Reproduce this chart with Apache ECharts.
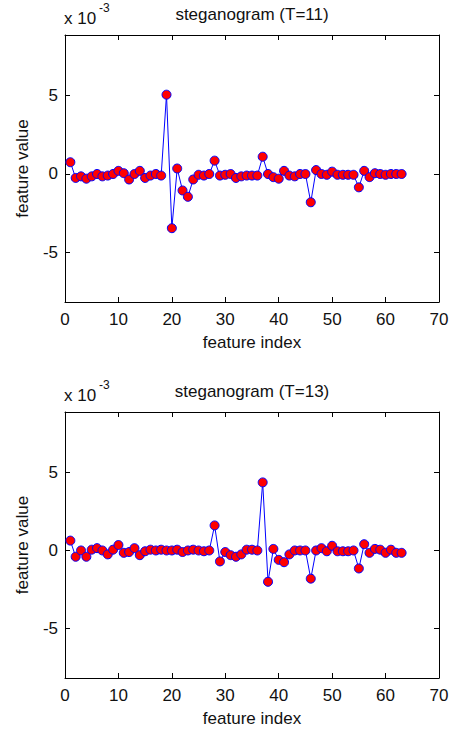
<!DOCTYPE html>
<html>
<head>
<meta charset="utf-8">
<script src="https://cdn.jsdelivr.net/npm/echarts@6/dist/echarts.min.js"></script>
<style>
html,body{margin:0;padding:0;background:#fff;}
#chart{width:453px;height:734px;}
</style>
</head>
<body>
<div id="chart"></div>
<script>
// feature index 1..63
var featureIndex = [];
for (var k = 1; k <= 63; k++) featureIndex.push(k);

// steganogram T=11 (values x 10^-3)
var valuesT11 = [0.75,-0.25,-0.15,-0.3,-0.15,0.0,-0.15,-0.1,0.0,0.2,
  0.05,-0.35,0.0,0.2,-0.25,-0.1,0.0,-0.1,5.05,-3.45,
  0.35,-1.05,-1.45,-0.35,-0.05,-0.1,0.0,0.85,-0.1,-0.05,
  0.0,-0.25,-0.15,-0.1,-0.1,-0.1,1.1,0.0,-0.2,-0.3,
  0.2,-0.1,-0.15,0.0,0.0,-1.8,0.25,0.0,-0.05,0.15,
  -0.05,-0.05,-0.05,-0.05,-0.85,0.2,-0.2,0.05,0.0,-0.05,
  0.0,0.0,0.0];

// steganogram T=13 (values x 10^-3)
var valuesT13 = [0.63,-0.4,0.0,-0.4,0.05,0.15,0.0,-0.25,0.05,0.35,
  -0.15,-0.1,0.15,-0.3,-0.05,0.05,0.0,0.05,0.0,0.0,
  0.05,-0.1,0.0,0.05,0.0,-0.05,0.0,1.6,-0.7,-0.1,
  -0.3,-0.4,-0.25,0.05,0.05,0.0,4.35,-2.0,0.1,-0.6,
  -0.75,-0.25,0.0,0.0,0.0,-1.8,0.0,0.15,-0.05,0.3,
  -0.05,-0.05,-0.05,0.0,-1.15,0.4,-0.15,0.1,0.05,-0.15,
  0.05,-0.15,-0.15];

var titles = ['steganogram (T=11)', 'steganogram (T=13)'];
var xTicks = [0, 10, 20, 30, 40, 50, 60, 70];
var yTicks = [-5, 0, 5];
var xName = 'feature index';
var yName = 'feature value';
var scaleText = 'x 10';
var scaleExp = '-3';

var FONT = 'Liberation Sans, Arial, sans-serif';
var grids = [
  {left: 65, width: 374, top: 35, height: 267},
  {left: 65, width: 374, top: 412, height: 266}
];

function pairs(vals) {
  return featureIndex.map(function (x, i) { return [x, vals[i]]; });
}

var lineCol = '#000';
var txtCol = '#111';
var xAxes = [], yAxes = [], series = [], graphics = [];
[valuesT11, valuesT13].forEach(function (vals, g) {
  xAxes.push({
    type: 'value', gridIndex: g, position: 'bottom', min: 0, max: 70, interval: 10,
    axisLine: {show: true, onZero: false, lineStyle: {color: lineCol, width: 1}},
    axisTick: {show: true, inside: true, length: 5, lineStyle: {color: lineCol}},
    axisLabel: {color: txtCol, fontSize: 17, fontFamily: FONT, margin: 9},
    splitLine: {show: false},
    name: xName, nameLocation: 'middle', nameGap: 32,
    nameTextStyle: {color: txtCol, fontSize: 17, fontFamily: FONT}
  });
  xAxes.push({
    type: 'value', gridIndex: g, position: 'top', min: 0, max: 70, interval: 10,
    axisLine: {show: true, onZero: false, lineStyle: {color: lineCol, width: 1}},
    axisTick: {show: true, inside: true, length: 5, lineStyle: {color: lineCol}},
    axisLabel: {show: false}, splitLine: {show: false}
  });
  yAxes.push({
    type: 'value', gridIndex: g, position: 'left', min: -8.15, max: 8.85,
    axisLine: {show: true, onZero: false, lineStyle: {color: lineCol, width: 1}},
    axisTick: {show: true, inside: true, length: 5, customValues: yTicks, lineStyle: {color: lineCol}},
    axisLabel: {color: txtCol, fontSize: 17, fontFamily: FONT, margin: 7, customValues: yTicks},
    splitLine: {show: false},
    name: yName, nameLocation: 'middle', nameGap: 34, nameRotate: 90,
    nameTextStyle: {color: txtCol, fontSize: 17, fontFamily: FONT}
  });
  yAxes.push({
    type: 'value', gridIndex: g, position: 'right', min: -8.15, max: 8.85,
    axisLine: {show: true, onZero: false, lineStyle: {color: lineCol, width: 1}},
    axisTick: {show: true, inside: true, length: 5, customValues: yTicks, lineStyle: {color: lineCol}},
    axisLabel: {show: false}, splitLine: {show: false}
  });
  series.push({
    type: 'line', xAxisIndex: g * 2, yAxisIndex: g * 2,
    data: pairs(vals),
    symbol: 'circle', symbolSize: 9,
    itemStyle: {color: '#ff0000', borderColor: '#0000ff', borderWidth: 1},
    lineStyle: {color: '#0000ff', width: 1},
    animation: false
  });
  var top = grids[g].top;
  graphics.push({
    type: 'text', x: 252, y: top - 21,
    style: {text: titles[g], fill: txtCol, font: '17px ' + FONT, align: 'center', verticalAlign: 'middle'}
  });
  graphics.push({
    type: 'text', x: 64, y: top - 17,
    style: {text: scaleText, fill: txtCol, font: '17px ' + FONT, align: 'left', verticalAlign: 'middle'}
  });
  graphics.push({
    type: 'text', x: 99, y: top - 27,
    style: {text: scaleExp, fill: txtCol, font: '12px ' + FONT, align: 'left', verticalAlign: 'middle'}
  });
});

var chart = echarts.init(document.getElementById('chart'), null, {renderer: 'svg'});
chart.setOption({
  animation: false,
  backgroundColor: '#fff',
  grid: grids,
  xAxis: xAxes,
  yAxis: yAxes,
  series: series,
  graphic: graphics
});
</script>
</body>
</html>
